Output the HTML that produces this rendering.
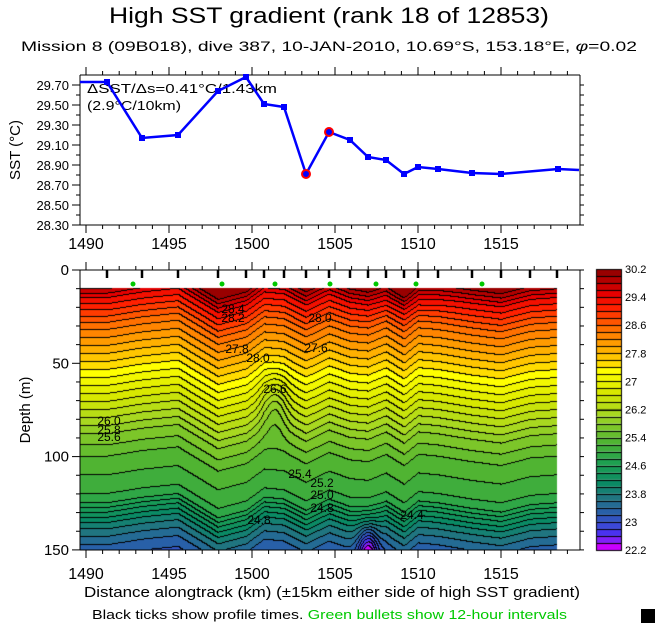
<!DOCTYPE html>
<html><head><meta charset="utf-8">
<style>
html,body{margin:0;padding:0;background:#fff;}
#w{position:relative;width:660px;height:626px;overflow:hidden;font-family:"Liberation Sans",sans-serif;}
canvas{position:absolute;left:0;top:0;}
svg{position:absolute;left:0;top:0;}
</style></head><body>
<div id="w">
<canvas id="c" width="660" height="626"></canvas>
<svg id="s" width="660" height="626" xmlns="http://www.w3.org/2000/svg" font-family="Liberation Sans, sans-serif">
<text x="109" y="23" font-size="22" textLength="440" lengthAdjust="spacingAndGlyphs">High SST gradient (rank 18 of 12853)</text>
<text x="21" y="51" font-size="14" textLength="616" lengthAdjust="spacingAndGlyphs">Mission 8 (09B018),  dive 387,  10-JAN-2010,  10.69°S, 153.18°E,  <tspan font-style="italic">φ</tspan>=0.02</text>
<text x="87" y="93" font-size="13" textLength="190" lengthAdjust="spacingAndGlyphs">ΔSST/Δs=0.41°C/1.43km</text>
<text x="87" y="110" font-size="13" textLength="94" lengthAdjust="spacingAndGlyphs">(2.9°C/10km)</text>
<text transform="translate(20,150) rotate(-90)" font-size="15" text-anchor="middle">SST (°C)</text>
<text transform="translate(30,410) rotate(-90)" font-size="15" text-anchor="middle">Depth (m)</text>
<text x="84" y="597" font-size="15" textLength="496" lengthAdjust="spacingAndGlyphs">Distance alongtrack (km) (±15km either side of high SST gradient)</text>
<text x="92" y="619" font-size="13" textLength="475" lengthAdjust="spacingAndGlyphs">Black ticks show profile times. <tspan fill="#00c800">Green bullets show 12-hour intervals</tspan></text>
<rect x="641" y="609" width="14" height="14" fill="#000"/>
<g id="g"></g>
</svg>
</div>
<script>
var c=document.getElementById('c').getContext('2d');
var g=document.getElementById('g');
var NS='http://www.w3.org/2000/svg';
function el(t,a,txt){var e=document.createElementNS(NS,t);for(var k in a)e.setAttribute(k,a[k]);if(txt!==undefined)e.textContent=txt;g.appendChild(e);return e;}
function line(x1,y1,x2,y2,w,col){el('line',{x1:x1,y1:y1,x2:x2,y2:y2,stroke:col||'#000','stroke-width':w||1});}
function txt(x,y,s,sz,anc){el('text',{x:x,y:y,'font-size':sz||14,'text-anchor':anc||'middle'},s);}
function XK(km){return 86+(km-1490)*16.6;}
var anch=[[0,'#990000'],[3,'#e60000'],[5,'#ff2000'],[8,'#ff7000'],[11,'#ffb000'],[13,'#ffdc00'],[14,'#ffff00'],[17,'#d8e800'],[20,'#a8d820'],[24,'#50b432'],[27,'#1ea050'],[30,'#0a8a64'],[32,'#207580'],[34,'#2860a8'],[36,'#3c48d8'],[37,'#4a32f0'],[38,'#8020f8'],[39,'#c800ff']];
function h2r(h){return [parseInt(h.substr(1,2),16),parseInt(h.substr(3,2),16),parseInt(h.substr(5,2),16)];}
var pal=[];
for(var i=0;i<40;i++){for(var j=0;j<anch.length-1;j++){if(i>=anch[j][0]&&i<=anch[j+1][0]){var a=h2r(anch[j][1]),b=h2r(anch[j+1][1]),f=(i-anch[j][0])/(anch[j+1][0]-anch[j][0]);pal[i]=[0,1,2].map(function(k){return Math.round(a[k]+(b[k]-a[k])*f);});break;}}}
var T0=[[0,30.1],[8,30.0],[15,29.4],[30,28.5],[45,27.8],[60,27.1],[75,26.4],[88,25.8],[100,25.4],[110,25.2],[120,25.0],[125,24.8],[130,24.4],[137,23.9],[145,23.5],[150,23.3],[160,23.0]];
function t0(z){if(z<=T0[0][0])return T0[0][1];for(var i=0;i<T0.length-1;i++){if(z<=T0[i+1][0]){var f=(z-T0[i][0])/(T0[i+1][0]-T0[i][0]);return T0[i][1]+f*(T0[i+1][1]-T0[i][1]);}}return T0[T0.length-1][1];}
var st=[[80,0],[107,0],[142,-3],[178,-5],[218,8],[246,4],[264,-3],[284,-2],[306,4],[329,-2],[350,2],[368,3],[386,-1],[404,5],[418,-1],[438,0],[472,3],[501,5],[530,1],[557,0]];
function disp(x){for(var i=0;i<st.length-1;i++){if(x<=st[i+1][0]){var f=(x-st[i][0])/(st[i+1][0]-st[i][0]);return st[i][1]+f*(st[i+1][1]-st[i][1]);}}return 0;}
function T(x,z){var d=disp(x);var t=t0(z-d);
t+=-0.5*Math.exp(-Math.pow((x-275)/12,2)-Math.pow((z-72)/16,2));
t+=-1.2*Math.exp(-Math.pow((x-368)/10,2)-Math.pow((z-152)/14,2));
t+=0.2*Math.exp(-Math.pow((x-400)/40,2)-Math.pow((z-12)/10,2));
return t;}
var X0=80,X1=557,Y0=288,Y1=550;
var W=X1-X0,H=Y1-Y0;
var bins=[];
for(var y=0;y<H;y++){bins[y]=[];var z=(Y0+y+0.5-270)/1.866;for(var x=0;x<W;x++){var t=T(X0+x,z);var b=Math.floor((30.2-t)/0.2);if(b<0)b=0;if(b>39)b=39;bins[y][x]=b;}}
var img=c.createImageData(W,H);
for(var y=0;y<H;y++)for(var x=0;x<W;x++){var b=bins[y][x];var col=pal[b];var k=(y*W+x)*4;
var edge=(x<W-1&&bins[y][x+1]!=b)||(y<H-1&&bins[y+1][x]!=b);
if(edge)col=[0,0,0];img.data[k]=col[0];img.data[k+1]=col[1];img.data[k+2]=col[2];img.data[k+3]=255;}
c.putImageData(img,X0,Y0);
for(var i=0;i<40;i++){var yy=269+i*281/40;var p=pal[i];c.fillStyle='rgb('+p+')';c.fillRect(596,yy,25,281/40);c.strokeStyle='#000';c.lineWidth=1;c.strokeRect(596.5,Math.round(yy)+0.5,25,Math.round(281/40));}
['30.2','29.4','28.6','27.8','27','26.2','25.4','24.6','23.8','23','22.2'].forEach(function(s,i){txt(625,269+i*28.1+4,s,11,'start');});
line(80,75,580,75);line(80,225,580,225);line(80,75,80,225);line(580,75,580,225);
for(var v=28.3;v<=29.81;v+=0.1){var y=85+(29.7-v)*100;if(y<75)continue;var maj=Math.round(v*10)%2==1;line(maj?72:76,y,80,y);line(580,y,584,y);}
[29.7,29.5,29.3,29.1,28.9,28.7,28.5,28.3].forEach(function(v){var y=85+(29.7-v)*100;txt(69,y+5,v.toFixed(2),13,'end');});
for(var k=1490;k<=1519;k++){var x=XK(k);var maj=k%5==0;line(x,75,x,maj?67:71);line(x,225,x,maj?233:229);
line(x,270,x,maj?262:266);line(x,550,x,maj?558:554);}
[1490,1495,1500,1505,1510,1515].forEach(function(k){txt(XK(k),249,k,16);txt(XK(k),579,k,16);});
var pts=[[80,82],[107,82],[142,138],[178,135],[218,91],[246,77],[264,104],[284,107],[306,174],[329,132],[350,140],[368,157],[386,160],[404,174],[418,167],[438,169],[472,173],[501,174],[558,169],[579,170]];
el('polyline',{points:pts.map(function(p){return p.join(',')}).join(' '),fill:'none',stroke:'#0000ff','stroke-width':2.5});
pts.slice(1,19).forEach(function(p){el('rect',{x:p[0]-3,y:p[1]-3,width:6,height:6,fill:'#0000ff'});});
[[306,174],[329,132]].forEach(function(p){el('circle',{cx:p[0],cy:p[1],r:4,fill:'#0000ff',stroke:'#ff0000','stroke-width':2});});
line(80,270,580,270);line(80,550,580,550);line(80,270,80,550);line(580,270,580,550);
for(var d=0;d<=150;d+=10){var y=270+d*1.866;var maj=d%50==0;line(maj?72:76,y,80,y);line(580,y,584,y);}
[0,50,100,150].forEach(function(d){txt(69,270+d*1.866+5,d,15,'end');});
[107,142,178,218,246,264,284,306,329,350,368,386,404,418,438,472,501,530,557].forEach(function(x){line(x,270,x,278,2.5);});
[133,222,275,330,376,416,482].forEach(function(x){el('circle',{cx:x,cy:284,r:2.5,fill:'#00c800'});});
[[233,313,'28.4'],[233,322,'28.2'],[237,353,'27.8'],[320,322,'28.0'],[316,352,'27.6'],[258,362,'28.0'],[275,393,'26.6'],[109,425,'26.0'],[109,434,'25.8'],[109,441,'25.6'],[300,478,'25.4'],[322,487,'25.2'],[322,499,'25.0'],[322,512,'24.8'],[259,524,'24.8'],[412,519,'24.4']].forEach(function(l){txt(l[0],l[1],l[2],12);});
</script>
</body></html>
